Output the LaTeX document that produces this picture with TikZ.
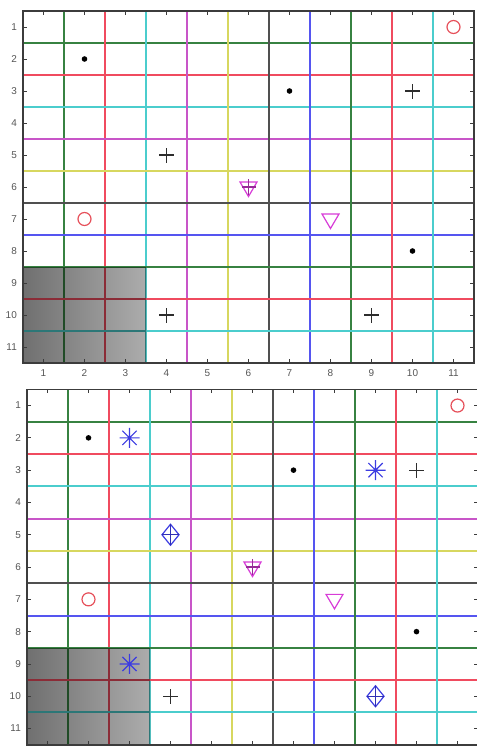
\documentclass[tikz,border=0pt]{standalone}
\usepackage{fontspec}
\setmainfont{Liberation Sans}
\definecolor{lg}{RGB}{55,130,65}
\definecolor{lr}{RGB}{240,75,95}
\definecolor{lc}{RGB}{75,205,205}
\definecolor{lm}{RGB}{200,85,200}
\definecolor{ly}{RGB}{215,215,95}
\definecolor{lk}{RGB}{80,80,80}
\definecolor{lb}{RGB}{85,85,240}
\definecolor{mred}{RGB}{230,80,90}
\definecolor{mmag}{RGB}{215,60,215}
\definecolor{mblue}{RGB}{60,60,225}
\definecolor{mblk}{RGB}{45,45,45}
\definecolor{axc}{RGB}{60,60,60}
\definecolor{lblc}{RGB}{85,85,85}
\definecolor{pdark}{RGB}{112,112,112}
\definecolor{plight}{RGB}{172,172,172}
\tikzset{
  gl/.style={line width=2bp},
  axbox/.style={draw=axc, line width=1.2bp},
  tk/.style={draw=axc, line width=0.9bp},
  lbl/.style={font=\fontsize{10}{12}\selectfont, text=lblc, inner sep=0pt},
  mk/.style={line width=1.2bp},
  mdot/.pic={\fill[black] (0,0) circle[radius=2.8bp];},
  mplus/.pic={\draw[mk, mblk] (-7.5bp,0)--(7.5bp,0) (0,-7.5bp)--(0,7.5bp);},
  mcirc/.pic={\draw[mk, mred] (0,0) circle[radius=6.5bp];},
  mtri/.pic={\draw[mk, mmag, line join=miter] (-8.5bp,5bp)--(8.5bp,5bp)--(0,-9.5bp)--cycle;},
  mtriplus/.pic={\draw[mk, mmag, line join=miter] (-8.5bp,5bp)--(8.5bp,5bp)--(0,-9.5bp)--cycle;
                 \draw[mk, mmag!70!black] (-7bp,0)--(7bp,0) (0,-8bp)--(0,8bp);},
  mstar/.pic={\draw[mk, mblue] (-10bp,0)--(10bp,0) (0,-10bp)--(0,10bp)
                 (-7.1bp,-7.1bp)--(7.1bp,7.1bp) (-7.1bp,7.1bp)--(7.1bp,-7.1bp);},
  mdiam/.pic={\draw[mk, mblue] (0,10.5bp)--(8.5bp,0)--(0,-10.5bp)--(-8.5bp,0)--cycle;
                 \draw[mk, mblue!80!black] (-8.5bp,0)--(8.5bp,0) (0,-10.5bp)--(0,10.5bp);},
}
% plot frame: #1 name, #2 left, #3 top, #4 column width, #5 row height
\newcommand\setplot[5]{%
  \def\PN{#1}\def\PL{#2}\def\PT{#3}\def\PW{#4}\def\PH{#5}%
  \pgfmathsetmacro\PR{#2+11*#4}%
  \pgfmathsetmacro\PB{round(#3+11*#5)}%
}
\newcommand\gridlines[1]{%
  \foreach \k/\c in {1/lg,2/lr,3/lc,4/lm,5/ly,6/lk,7/lb,8/lg,9/lr,10/lc}{
    \pgfmathsetmacro\gx{round(\PL+\k*\PW)}
    \pgfmathsetmacro\gy{round(\PT+\k*\PH)}
    \draw[gl, draw=\c#1] (\gx,\PT) -- (\gx,\PB);
    \draw[gl, draw=\c#1] (\PL,\gy) -- (\PR,\gy);
  }%
}
\newcommand\drawgridaxes{%
  \pgfmathsetmacro\patchT{round(\PT+8*\PH)}%
  \pgfmathsetmacro\patchR{round(\PL+3*\PW)}%
  \gridlines{}
  \fill[left color=pdark, right color=plight] (\PL,\patchT) rectangle (\patchR,\PB);
  \begin{scope}
    \clip (\PL,\patchT) rectangle (\patchR,\PB);
    \gridlines{!58!black}
  \end{scope}
  \draw[axbox] (\PL,\PT) rectangle (\PR,\PB);
  \foreach \i in {1,...,11}{
    \pgfmathsetmacro\cx{\PL+(\i-0.5)*\PW}
    \pgfmathsetmacro\cy{\PT+(\i-0.5)*\PH}
    \draw[tk] (\cx,\PB) -- ++(0,-4);
    \draw[tk] (\cx,\PT) -- ++(0,4);
    \draw[tk] (\PL,\cy) -- ++(4,0);
    \draw[tk] (\PR,\cy) -- ++(-4,0);
    \node[lbl, anchor=east] (\PN y\i) at (\PL-6,\cy) {\i};
  }
}
\newcommand\xlabels{%
  \foreach \i in {1,...,11}{
    \pgfmathsetmacro\cx{\PL+(\i-0.5)*\PW}
    \node[lbl, anchor=center] (\PN x\i) at (\cx,\PB+10) {\i};
  }
}
\newcommand\mrk[4]{\pic (\PN#1) at ({\PL+(#2-0.5)*\PW},{\PT+(#3-0.5)*\PH}) {#4};}
\begin{document}
\begin{tikzpicture}[x=1bp,y=-1bp]
\useasboundingbox (0,0) rectangle (477,748);
\clip (0,0) rectangle (477,748);
% top plot
\setplot{a}{23}{11}{41}{32}
\drawgridaxes
\xlabels
\mrk{1}{2}{2}{mdot}
\mrk{2}{11}{1}{mcirc}
\mrk{3}{10}{3}{mplus}
\mrk{4}{7}{3}{mdot}
\mrk{5}{4}{5}{mplus}
\mrk{6}{6}{6}{mtriplus}
\mrk{7}{2}{7}{mcirc}
\mrk{8}{8}{7}{mtri}
\mrk{9}{10}{8}{mdot}
\mrk{10}{4}{10}{mplus}
\mrk{11}{9}{10}{mplus}
% bottom plot
\setplot{b}{27}{389.4}{41}{32.3}
\drawgridaxes
\mrk{1}{2}{2}{mdot}
\mrk{2}{3}{2}{mstar}
\mrk{3}{11}{1}{mcirc}
\mrk{4}{7}{3}{mdot}
\mrk{5}{9}{3}{mstar}
\mrk{6}{10}{3}{mplus}
\mrk{7}{4}{5}{mdiam}
\mrk{8}{6}{6}{mtriplus}
\mrk{9}{2}{7}{mcirc}
\mrk{10}{8}{7}{mtri}
\mrk{11}{10}{8}{mdot}
\mrk{12}{3}{9}{mstar}
\mrk{13}{4}{10}{mplus}
\mrk{14}{9}{10}{mdiam}
\end{tikzpicture}
\end{document}
